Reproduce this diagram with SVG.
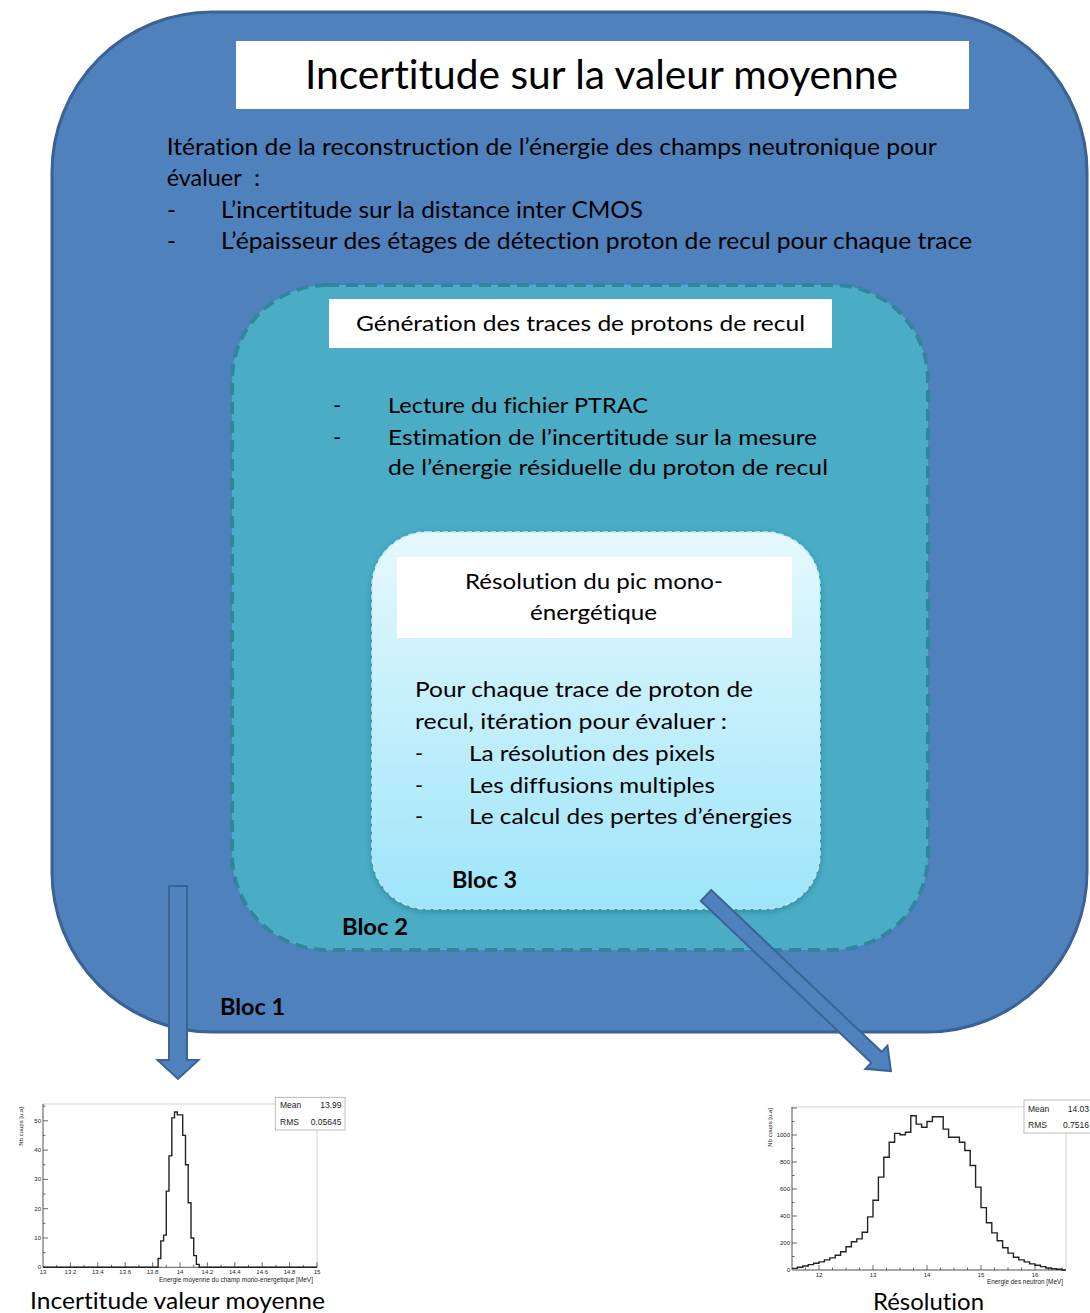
<svg xmlns="http://www.w3.org/2000/svg" width="1090" height="1313" viewBox="0 0 1090 1313">
<defs>
<style>
.t{font-family:Lato,"Open Sans","Liberation Sans",sans-serif;fill:#000;font-variant-ligatures:none}
.b{font-weight:bold}
.h{font-family:"Liberation Sans",Arial,sans-serif;fill:#222}
.ax{fill:none;stroke:#444;stroke-width:0.8}
.fr{fill:#fff;stroke:#c8c8c8;stroke-width:0.8}
.hist{fill:none;stroke:#222;stroke-width:1.4}
.stat{fill:#fff;stroke:#aaa;stroke-width:0.8}
.arrow{fill:#4F81BD;stroke:#3B6494;stroke-width:2;stroke-linejoin:miter}
.wbox{fill:#fff}
</style>
<linearGradient id="g3" x1="0" y1="0" x2="0" y2="1">
<stop offset="0" stop-color="#E6F8FD"/>
<stop offset="1" stop-color="#9EE5FA"/>
</linearGradient>
<filter id="sh" x="-10%" y="-10%" width="120%" height="120%">
<feDropShadow dx="0" dy="2" stdDeviation="3" flood-color="#1d5f70" flood-opacity="0.45"/>
</filter>
</defs>
<rect width="1090" height="1313" fill="#fff"/>

<g id="bloc1">
<rect x="52" y="12" width="1035" height="1020" rx="160" ry="160" fill="#4F81BD" stroke="#3B6293" stroke-width="3"/>
<rect class="wbox" x="236" y="41" width="733" height="68"/>
<text class="t" x="305" y="89" font-size="40" textLength="593" lengthAdjust="spacingAndGlyphs">Incertitude sur la valeur moyenne</text>
<text class="t" x="166.7" y="154.5" font-size="24" textLength="770" lengthAdjust="spacingAndGlyphs">Itération de la reconstruction de l’énergie des champs neutronique pour</text>
<text class="t" x="166.7" y="186" font-size="24" textLength="75" lengthAdjust="spacingAndGlyphs">évaluer</text>
<text class="t" x="254" y="186" font-size="24">:</text>
<text class="t" x="167" y="217.7" font-size="24">-</text>
<text class="t" x="221" y="217.7" font-size="24" textLength="422" lengthAdjust="spacingAndGlyphs">L’incertitude sur la distance inter CMOS</text>
<text class="t" x="167" y="249" font-size="24">-</text>
<text class="t" x="221" y="249" font-size="24" textLength="751" lengthAdjust="spacingAndGlyphs">L’épaisseur des étages de détection proton de recul pour chaque trace</text>
<text class="t b" x="220" y="1015" font-size="22" textLength="65" lengthAdjust="spacingAndGlyphs">Bloc 1</text>
</g>

<g id="bloc2">
<rect x="232" y="285" width="696" height="665" rx="95" ry="95" fill="#4BACC6" stroke="#31859C" stroke-width="4" stroke-dasharray="12 7"/>
<rect class="wbox" x="329" y="299" width="503" height="49"/>
<text class="t" x="356" y="330.7" font-size="22" textLength="449" lengthAdjust="spacingAndGlyphs">Génération des traces de protons de recul</text>
<text class="t" x="333" y="413" font-size="22">-</text>
<text class="t" x="388" y="413" font-size="22" textLength="260" lengthAdjust="spacingAndGlyphs">Lecture du fichier PTRAC</text>
<text class="t" x="333" y="445" font-size="22">-</text>
<text class="t" x="388" y="445" font-size="22" textLength="429" lengthAdjust="spacingAndGlyphs">Estimation de l’incertitude sur la mesure</text>
<text class="t" x="388" y="475" font-size="22" textLength="440" lengthAdjust="spacingAndGlyphs">de l’énergie résiduelle du proton de recul</text>
<text class="t b" x="342" y="935" font-size="22" textLength="66" lengthAdjust="spacingAndGlyphs">Bloc 2</text>
</g>

<g id="bloc3">
<rect x="372" y="532" width="448" height="377" rx="55" ry="55" fill="url(#g3)" stroke="#bfeaf6" stroke-width="1.5" stroke-dasharray="5 3" filter="url(#sh)"/>
<rect class="wbox" x="397" y="557" width="395" height="81"/>
<text class="t" x="465" y="589" font-size="22" textLength="258" lengthAdjust="spacingAndGlyphs">Résolution du pic mono-</text>
<text class="t" x="530" y="620" font-size="22" textLength="127" lengthAdjust="spacingAndGlyphs">énergétique</text>
<text class="t" x="415" y="697" font-size="22" textLength="338" lengthAdjust="spacingAndGlyphs">Pour chaque trace de proton de</text>
<text class="t" x="415" y="729" font-size="22" textLength="312" lengthAdjust="spacingAndGlyphs">recul, itération pour évaluer :</text>
<text class="t" x="415" y="761" font-size="22">-</text>
<text class="t" x="469" y="761" font-size="22" textLength="246" lengthAdjust="spacingAndGlyphs">La résolution des pixels</text>
<text class="t" x="415" y="793" font-size="22">-</text>
<text class="t" x="469" y="793" font-size="22" textLength="246" lengthAdjust="spacingAndGlyphs">Les diffusions multiples</text>
<text class="t" x="415" y="824" font-size="22">-</text>
<text class="t" x="469" y="824" font-size="22" textLength="323" lengthAdjust="spacingAndGlyphs">Le calcul des pertes d’énergies</text>
<text class="t b" x="452" y="888" font-size="22" textLength="65" lengthAdjust="spacingAndGlyphs">Bloc 3</text>
</g>

<g id="histo-moyenne">
<rect class="fr" x="43" y="1104" width="274" height="163.3"/>
<path class="ax" d="M43,1104 V1267.3 H317"/>
<path class="ax" d="M43,1267.3 H48 M43,1238 H48 M43,1208.7 H48 M43,1179.4 H48 M43,1150.1 H48 M43,1120.8 H48 M43,1252.6 H45.5 M43,1223.3 H45.5 M43,1194 H45.5 M43,1164.8 H45.5 M43,1135.4 H45.5 M43,1106.1 H45.5 M70.4,1267.3 V1262.3 M97.8,1267.3 V1262.3 M125.2,1267.3 V1262.3 M152.6,1267.3 V1262.3 M180,1267.3 V1262.3 M207.4,1267.3 V1262.3 M234.8,1267.3 V1262.3 M262.2,1267.3 V1262.3 M289.6,1267.3 V1262.3 M317,1267.3 V1262.3 M56.7,1267.3 V1264.8 M84.1,1267.3 V1264.8 M111.5,1267.3 V1264.8 M138.9,1267.3 V1264.8 M166.3,1267.3 V1264.8 M193.7,1267.3 V1264.8 M221.1,1267.3 V1264.8 M248.5,1267.3 V1264.8 M275.9,1267.3 V1264.8 M303.3,1267.3 V1264.8"/>
<path class="hist" d="M43,1267.3 H158.1 V1258.5 H160.8 V1240.9 H163.6 V1235.1 H166.3 V1191.1 H169 V1155.9 H171.8 V1117.9 H174.5 V1112 H177.3 V1114.9 H180 H182.7 V1135.4 H185.5 V1164.8 H188.2 V1202.8 H191 V1238 H193.7 V1255.6 H196.4 V1264.4 H199.2 V1267.3 H317"/>
<g class="h" font-size="6" text-anchor="end">
<text x="41" y="1269">0</text>
<text x="41" y="1240">10</text>
<text x="41" y="1210.5">20</text>
<text x="41" y="1181">30</text>
<text x="41" y="1152">40</text>
<text x="41" y="1122.5">50</text>
</g>
<g class="h" font-size="6" text-anchor="middle">
<text x="43" y="1274">13</text>
<text x="70.4" y="1274">13.2</text>
<text x="97.8" y="1274">13.4</text>
<text x="125.2" y="1274">13.6</text>
<text x="152.6" y="1274">13.8</text>
<text x="180" y="1274">14</text>
<text x="207.4" y="1274">14.2</text>
<text x="234.8" y="1274">14.4</text>
<text x="262.2" y="1274">14.6</text>
<text x="289.6" y="1274">14.8</text>
<text x="317" y="1274">15</text>
</g>
<text class="h" x="313" y="1281.5" font-size="6.3" text-anchor="end" textLength="154" lengthAdjust="spacingAndGlyphs">Energie moyenne du champ mono-energetique [MeV]</text>
<text class="h" transform="translate(23,1107) rotate(-90)" font-size="6" text-anchor="end">Nb coups [u.a]</text>
<rect class="stat" x="275.3" y="1097.3" width="69.7" height="32.7"/>
<g class="h" font-size="8.5">
<text x="280" y="1107.5">Mean</text>
<text x="341.5" y="1107.5" text-anchor="end">13.99</text>
<text x="280" y="1125">RMS</text>
<text x="341.5" y="1125" text-anchor="end">0.05645</text>
</g>
<text class="t" x="30" y="1309" font-size="24" textLength="295" lengthAdjust="spacingAndGlyphs">Incertitude valeur moyenne</text>
</g>

<g id="histo-resolution">
<rect class="fr" x="792" y="1107" width="274" height="163"/>
<path class="ax" d="M792,1107 V1270 H1066"/>
<path class="ax" d="M792,1243 H797 M792,1216 H797 M792,1189 H797 M792,1162 H797 M792,1135 H797 M792,1108 H797 M792,1256.5 H794.5 M792,1229.5 H794.5 M792,1202.5 H794.5 M792,1175.5 H794.5 M792,1148.5 H794.5 M792,1121.5 H794.5 M819,1270 V1265 M873,1270 V1265 M927,1270 V1265 M981,1270 V1265 M1035,1270 V1265 M805.5,1270 V1267.5 M832.5,1270 V1267.5 M846,1270 V1267.5 M859.5,1270 V1267.5 M886.5,1270 V1267.5 M900,1270 V1267.5 M913.5,1270 V1267.5 M940.5,1270 V1267.5 M954,1270 V1267.5 M967.5,1270 V1267.5 M994.5,1270 V1267.5 M1008,1270 V1267.5 M1021.5,1270 V1267.5 M1048.5,1270 V1267.5 M1062,1270 V1267.5"/>
<path class="hist" d="M792,1268.4 H797.4 V1267.3 H802.8 V1266 H808.2 V1264.6 H813.6 V1263.3 H819 V1261.9 H824.4 V1259.9 H829.8 V1257.9 H835.2 V1255.2 H840.6 V1251.8 H846 V1246.8 H851.4 V1241.7 H856.8 V1238.9 H862.2 V1232.2 H867.6 V1216.9 H873 V1200.3 H878.4 V1177.1 H883.8 V1157.3 H889.2 V1142.3 H894.6 V1133.4 H900 V1134.7 H905.4 V1132.3 H910.8 V1115.8 H916.2 V1124.1 H921.6 V1127.3 H927 V1121.5 H932.4 V1116.8 H937.8 H943.2 V1129.1 H948.6 V1137.3 H954 H959.4 V1142.3 H964.8 V1150.5 H970.2 V1165.5 H975.6 V1187.1 H981 V1207.6 H986.4 V1222.8 H991.8 V1232.9 H997.2 V1240.8 H1002.6 V1247.7 H1008 V1253.1 H1013.4 V1257.2 H1018.8 V1259.9 H1024.2 V1261.9 H1029.6 V1263.9 H1035 V1265.3 H1040.4 V1266.6 H1045.8 V1268 H1051.2 V1268.7 H1056.6 V1269.3 H1062 V1270 H1066"/>
<g class="h" font-size="6" text-anchor="end">
<text x="790" y="1272">0</text>
<text x="790" y="1245">200</text>
<text x="790" y="1218">400</text>
<text x="790" y="1191">600</text>
<text x="790" y="1164">800</text>
<text x="790" y="1137">1000</text>
</g>
<g class="h" font-size="6" text-anchor="middle">
<text x="819" y="1277">12</text>
<text x="873" y="1277">13</text>
<text x="927" y="1277">14</text>
<text x="981" y="1277">15</text>
<text x="1035" y="1277">16</text>
</g>
<text class="h" x="1063" y="1284" font-size="6.3" text-anchor="end" textLength="76" lengthAdjust="spacingAndGlyphs">Energie des neutron [MeV]</text>
<text class="h" transform="translate(772,1108) rotate(-90)" font-size="6" text-anchor="end">Nb coups [u.a]</text>
<rect class="stat" x="1024" y="1100" width="70" height="33"/>
<g class="h" font-size="8.5">
<text x="1028" y="1111.5">Mean</text>
<text x="1089" y="1111.5" text-anchor="end">14.03</text>
<text x="1028" y="1127.5">RMS</text>
<text x="1089" y="1127.5" text-anchor="end">0.7516</text>
</g>
<text class="t" x="873" y="1310" font-size="24" textLength="111" lengthAdjust="spacingAndGlyphs">Résolution</text>
</g>

<g id="connectors">
<polygon class="arrow" points="169,886 187,886 187,1060 198.5,1060 178,1079 157.5,1060 169,1060"/>
<polygon class="arrow" transform="translate(706,895.5) rotate(43.5)" points="0,-7.5 235,-7.5 235,-16 255,0 235,16 235,7.5 0,7.5"/>
</g>
</svg>
